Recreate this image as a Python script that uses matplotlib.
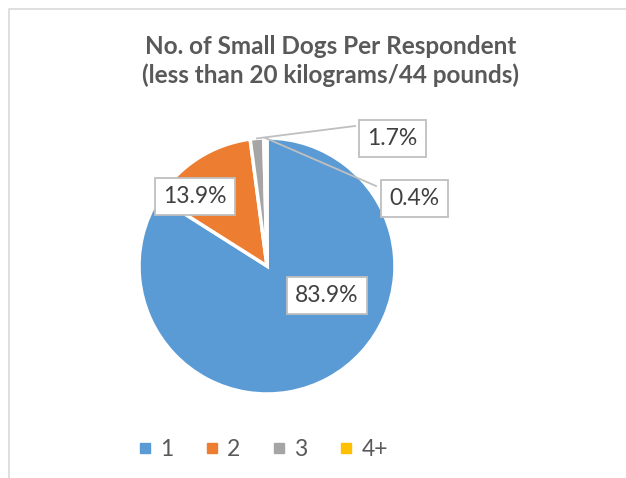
import matplotlib
matplotlib.use("Agg")
import matplotlib.pyplot as plt
from matplotlib.lines import Line2D
import numpy as np

categories = ["1", "2", "3", "4+"]
values = [83.9, 13.9, 1.7, 0.4]
labels = ["83.9%", "13.9%", "1.7%", "0.4%"]
colors = ["#5B9BD5", "#ED7D31", "#A5A5A5", "#FFC000"]
title = "No. of Small Dogs Per Respondent\n(less than 20 kilograms/44 pounds)"

W, H = 626, 478
fig = plt.figure(figsize=(W / 100, H / 100), dpi=100)
fig.patch.set_facecolor("white")
ax = fig.add_axes([0, 0, 1, 1])

cx, cy, r = 267, H - 266, 128
wedges, _ = ax.pie(values, colors=colors, startangle=90, counterclock=False,
                   center=(cx, cy), radius=r,
                   wedgeprops=dict(edgecolor="white", linewidth=2.5))
ax.set_xlim(0, W)
ax.set_ylim(0, H)
ax.set_aspect("equal")
ax.axis("off")

# label positions (pixel coords from top-left)
label_pos = [(326.5, 295.5), (194.5, 196.5), (392.5, 138.5), (414.5, 198.5)]
box = dict(boxstyle="square,pad=0.36", fc="white", ec="#BFBFBF", lw=1.3)
for w, lab, (lx, ly) in zip(wedges, labels, label_pos):
    ax.text(lx, H - ly, lab, ha="center", va="center", fontsize=16.5,
            color="#404040", family="Lato", bbox=box, zorder=5)

# leader lines for small slices
leader_starts = {2: (355, 126), 3: (376, 186)}
for i, (sx, sy) in leader_starts.items():
    w = wedges[i]
    mid = np.deg2rad((w.theta1 + w.theta2) / 2)
    ex, ey = cx + r * np.cos(mid), cy + r * np.sin(mid)
    ax.plot([sx, ex], [H - sy, ey], color="#BFBFBF", lw=1.3, zorder=4)

fig.text(331 / W, 1 - 61 / H, title, ha="center", va="center", fontsize=17.5,
         fontweight="bold", color="#595959", family="Lato", linespacing=1.3)

# chart border (partially cropped)
fig.add_artist(Line2D([9 / W, 9 / W, 1.0], [0, 1 - 9 / H, 1 - 9 / H],
                      transform=fig.transFigure, color="#D9D9D9", lw=1.2))

handles = [Line2D([], [], marker="s", linestyle="", markersize=7.5,
                  markerfacecolor=c, markeredgecolor=c) for c in colors]
leg = fig.legend(handles, categories, loc="center", bbox_to_anchor=(264 / W, 1 - 450 / H),
                 ncol=4, frameon=False, fontsize=16.5, handletextpad=0.43,
                 columnspacing=1.47, handlelength=0.45, borderpad=0, borderaxespad=0)
for t in leg.get_texts():
    t.set_color("#595959")
    t.set_family("Lato")

fig.savefig("out.png", dpi=100, facecolor="white")
